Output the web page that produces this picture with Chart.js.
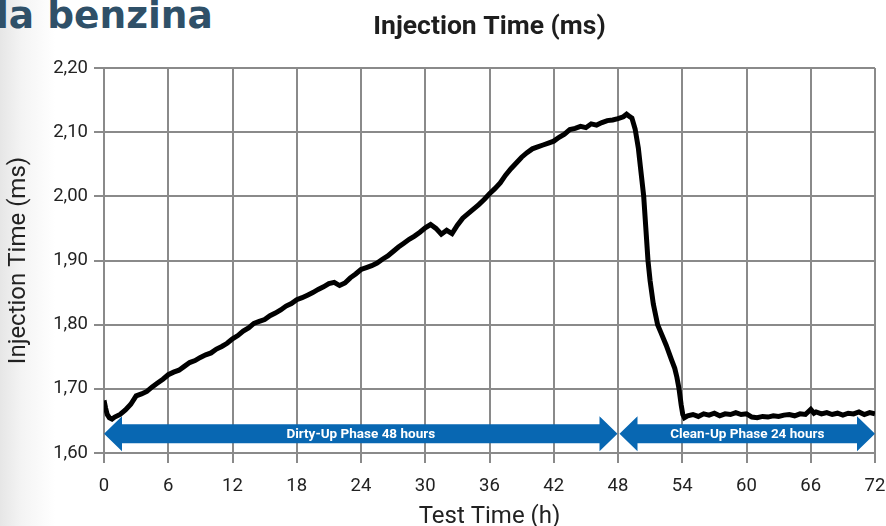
<!DOCTYPE html>
<html>
<head>
<meta charset="utf-8">
<script src="https://cdn.jsdelivr.net/npm/chart.js@4/dist/chart.umd.min.js"></script>
<style>
  html, body { margin: 0; padding: 0; }
  body {
    width: 886px; height: 526px; position: relative; overflow: hidden;
    background: linear-gradient(to right, #e6e6e6 0px, #f4f4f4 22px, #ffffff 55px);
  }
  #heading {
    position: absolute; left: -4px; top: -3px;
    font: bold 37.5px/37px "DejaVu Sans", sans-serif; color: #2f5068; white-space: nowrap;
  }
  #wrap { position: absolute; left: 0; top: 0; width: 886px; height: 526px; }
</style>
</head>
<body>
<div id="heading">la benzina</div>
<div id="wrap"><canvas id="chart" width="886" height="526"></canvas></div>
<script>
// test time in hours
var hours = [
  0.0, 0.15, 0.3, 0.5, 0.75, 1.0, 1.5, 2.0, 2.5, 3.0, 3.5, 4.0, 4.5, 5.0, 5.5,
  6.0, 6.5, 7.0, 7.5, 8.0, 8.5, 9.0, 9.5, 10.0, 10.5, 11.0, 11.5,
  12.0, 12.5, 13.0, 13.5, 14.0, 14.5, 15.0, 15.5, 16.0, 16.5, 17.0, 17.5,
  18.0, 18.5, 19.0, 19.5, 20.0, 20.5, 21.0, 21.5, 22.0, 22.5, 23.0, 23.5,
  24.0, 24.5, 25.0, 25.5, 26.0, 26.5, 27.0, 27.5, 28.0, 28.5, 29.0, 29.5,
  30.0, 30.5, 31.0, 31.5, 32.0, 32.5, 33.0, 33.5, 34.0, 34.5, 35.0, 35.5,
  36.0, 36.5, 37.0, 37.5, 38.0, 38.5, 39.0, 39.5, 40.0, 40.5, 41.0, 41.5,
  42.0, 42.5, 43.0, 43.5, 44.0, 44.5, 45.0, 45.5, 46.0, 46.5, 47.0, 47.5,
  48.0, 48.5, 48.8, 49.1, 49.3, 49.6, 49.9, 50.1, 50.4, 50.6, 50.8, 51.0,
  51.3, 51.7, 52.0, 52.5, 53.0, 53.3, 53.5, 53.7, 53.9, 54.05, 54.2,
  54.5, 55.0, 55.5, 56.0, 56.5, 57.0, 57.5, 58.0, 58.5, 59.0, 59.5,
  60.0, 60.5, 61.0, 61.5, 62.0, 62.5, 63.0, 63.5, 64.0, 64.5, 65.0, 65.5,
  66.0, 66.3, 66.5, 67.0, 67.5, 68.0, 68.5, 69.0, 69.5, 70.0, 70.5, 71.0, 71.5, 72.0
];
// injection time in ms
var injection = [
  1.682, 1.670, 1.660, 1.655, 1.653, 1.656, 1.660, 1.667, 1.676, 1.689, 1.692, 1.696, 1.703, 1.709, 1.715,
  1.722, 1.726, 1.729, 1.735, 1.741, 1.744, 1.749, 1.753, 1.756, 1.762, 1.766, 1.771,
  1.778, 1.783, 1.790, 1.795, 1.802, 1.805, 1.808, 1.814, 1.818, 1.823, 1.829, 1.833,
  1.839, 1.842, 1.846, 1.850, 1.855, 1.859, 1.864, 1.866, 1.861, 1.865, 1.873, 1.879,
  1.886, 1.889, 1.892, 1.896, 1.902, 1.907, 1.914, 1.921, 1.927, 1.933, 1.938, 1.944,
  1.951, 1.956, 1.950, 1.941, 1.947, 1.942, 1.955, 1.966, 1.973, 1.980, 1.987, 1.995,
  2.004, 2.012, 2.021, 2.033, 2.043, 2.052, 2.061, 2.068, 2.074, 2.077, 2.080, 2.083,
  2.086, 2.092, 2.097, 2.104, 2.106, 2.109, 2.107, 2.113, 2.111, 2.115, 2.118, 2.119,
  2.121, 2.124, 2.128, 2.124, 2.122, 2.105, 2.075, 2.045, 2.000, 1.950, 1.900, 1.868,
  1.832, 1.800, 1.788, 1.768, 1.745, 1.732, 1.718, 1.700, 1.675, 1.660, 1.655,
  1.658, 1.660, 1.657, 1.661, 1.659, 1.662, 1.658, 1.661, 1.660, 1.663, 1.660,
  1.661, 1.656, 1.655, 1.657, 1.656, 1.658, 1.657, 1.659, 1.660, 1.658, 1.661, 1.660,
  1.668, 1.662, 1.664, 1.661, 1.663, 1.660, 1.662, 1.659, 1.662, 1.661, 1.664, 1.660, 1.663, 1.661
];

// test phases drawn as double arrows under the curve
var phaseStart = [0, 48];
var phaseEnd = [48, 72];
var phaseLabels = ['Dirty-Up Phase 48 hours', 'Clean-Up Phase 24 hours'];
var phaseLevel = 1.63;

var points = hours.map(function (h, i) { return { x: h, y: injection[i] }; });

var FONT = 'Roboto, sans-serif';
var GRID = '#8a8a8a';

var phaseArrows = {
  id: 'phaseArrows',
  beforeDatasetsDraw: function (chart) {
    var ctx = chart.ctx;
    var xs = chart.scales.x, ys = chart.scales.y;
    var cy = ys.getPixelForValue(phaseLevel);
    var shaft = 9.5, head = 17.5, headLen = 18;
    ctx.save();
    for (var i = 0; i < phaseStart.length; i++) {
      var x1 = xs.getPixelForValue(phaseStart[i]) + (i > 0 ? 1.5 : 0);
      var x2 = xs.getPixelForValue(phaseEnd[i]) - (i === 0 ? 0.5 : 0);
      ctx.fillStyle = '#0867b2';
      ctx.beginPath();
      ctx.moveTo(x1, cy);
      ctx.lineTo(x1 + headLen, cy - head);
      ctx.lineTo(x1 + headLen, cy - shaft);
      ctx.lineTo(x2 - headLen, cy - shaft);
      ctx.lineTo(x2 - headLen, cy - head);
      ctx.lineTo(x2, cy);
      ctx.lineTo(x2 - headLen, cy + head);
      ctx.lineTo(x2 - headLen, cy + shaft);
      ctx.lineTo(x1 + headLen, cy + shaft);
      ctx.lineTo(x1 + headLen, cy + head);
      ctx.closePath();
      ctx.fill();
      ctx.fillStyle = '#ffffff';
      ctx.font = 'bold 13.5px ' + FONT;
      ctx.textAlign = 'center';
      ctx.textBaseline = 'middle';
      ctx.fillText(phaseLabels[i], (x1 + x2) / 2, cy + 1);
    }
    ctx.restore();
  },
  afterDraw: function (chart) {
    var ctx = chart.ctx, a = chart.chartArea;
    ctx.save();
    ctx.fillStyle = '#1e1e1e';
    ctx.font = 'bold 26.5px ' + FONT;
    ctx.textAlign = 'center';
    ctx.textBaseline = 'middle';
    ctx.fillText('Injection Time (ms)', (a.left + a.right) / 2, 27);
    ctx.restore();
  }
};

new Chart(document.getElementById('chart'), {
  type: 'line',
  data: {
    datasets: [{
      data: points,
      borderColor: '#000000',
      borderWidth: 5,
      pointRadius: 0,
      tension: 0,
      fill: false
    }]
  },
  options: {
    responsive: false,
    animation: false,
    layout: { padding: { top: 68, right: 11, left: 0, bottom: 0 } },
    plugins: { legend: { display: false }, tooltip: { enabled: false } },
    scales: {
      x: {
        type: 'linear',
        min: 0, max: 72,
        afterFit: function (s) { s.height = 73; s.paddingLeft = 0; s.paddingRight = 0; },
        ticks: { stepSize: 6, color: '#222', padding: 12, font: { family: FONT, size: 18.5 } },
        grid: { color: GRID, lineWidth: 2, tickLength: 10 },
        border: { color: GRID, width: 2 },
        title: { display: true, text: 'Test Time (h)', color: '#222', padding: 0,
                 font: { family: FONT, size: 24, lineHeight: 0.75 } }
      },
      y: {
        min: 1.6, max: 2.2,
        afterFit: function (s) { s.width = 104; },
        ticks: {
          stepSize: 0.1, color: '#222', padding: 6, font: { family: FONT, size: 18.5 },
          callback: function (v) { return v.toFixed(2).replace('.', ','); }
        },
        grid: { color: GRID, lineWidth: 2, tickLength: 10 },
        border: { color: GRID, width: 2 },
        title: { display: true, text: 'Injection Time (ms)', color: '#222', padding: { top: 5, bottom: 0 },
                 font: { family: FONT, size: 24 } }
      }
    }
  },
  plugins: [phaseArrows]
});
</script>
</body>
</html>
